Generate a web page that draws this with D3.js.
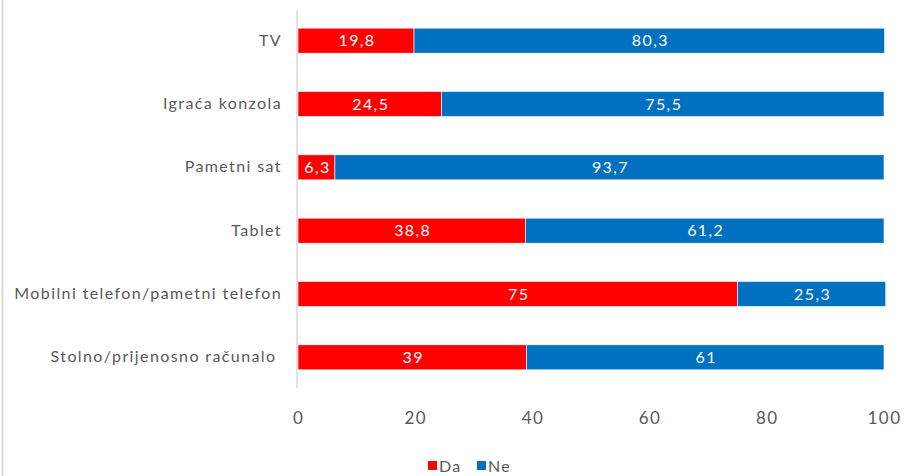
<!DOCTYPE html>
<html>
<head>
    <meta charset="utf-8">
    <title>uredaji</title>
    <script src="https://cdn.jsdelivr.net/npm/d3@7"></script>
    <style>
        body { margin: 0; background: #fff; }
        text { font-family: "Lato", "DejaVu Sans", sans-serif; letter-spacing: 1.4px; white-space: pre; }
    </style>
</head>
<body>
    <script>
        const width = 908;
        const height = 476;

        const categories = ["TV", "Igraća konzola", "Pametni sat", "Tablet",
            "Mobilni telefon/pametni telefon", "Stolno/prijenosno računalo "];
        const da = [19.8, 24.5, 6.3, 38.8, 75, 39];
        const ne = [80.3, 75.5, 93.7, 61.2, 25.3, 61];
        const seriesNames = ["Da", "Ne"];
        const colors = ["#ff0000", "#0070c0"];
        const ticks = [0, 20, 40, 60, 80, 100];

        const rows = categories.map((c, i) => ({ cat: c, da: da[i], ne: ne[i] }));

        const x = d3.scaleLinear().domain([0, 100]).range([298, 884]);
        const y = d3.scaleBand()
            .domain(categories)
            .range([9, 389])
            .paddingInner(0.605)
            .paddingOuter(0.3025);

        const svg = d3.select("body").append("svg")
            .attr("width", width)
            .attr("height", height);

        // frame line on left
        svg.append("line")
            .attr("x1", 2.5).attr("x2", 2.5)
            .attr("y1", 0).attr("y2", height)
            .attr("stroke", "#d9d9d9").attr("stroke-width", 2);

        const stack = d3.stack().keys(["da", "ne"])(rows);

        const g = svg.append("g");
        g.selectAll("g.series")
            .data(stack)
            .enter().append("g")
            .attr("fill", (d, i) => colors[i])
            .selectAll("rect")
            .data(d => d)
            .enter().append("rect")
            .attr("x", d => x(d[0]))
            .attr("y", d => y(d.data.cat))
            .attr("width", d => x(d[1]) - x(d[0]))
            .attr("height", y.bandwidth())
            .attr("stroke", "#fff")
            .attr("stroke-width", 0.6);

        // data labels
        stack.forEach((s, si) => {
            g.selectAll("text.l" + si)
                .data(s)
                .enter().append("text")
                .attr("x", d => (x(d[0]) + x(d[1])) / 2 + 1)
                .attr("y", d => y(d.data.cat) + y.bandwidth() / 2)
                .attr("dy", "0.36em")
                .attr("text-anchor", "middle")
                .attr("fill", "#fff")
                .attr("font-size", 16)
                .text(d => String(d.data[s.key]).replace(".", ","));
        });

        // y axis
        const gy = svg.append("g")
            .attr("transform", "translate(297,0)")
            .call(d3.axisLeft(y).tickSize(0).tickPadding(15));
        gy.select(".domain").attr("stroke", "#d9d9d9").attr("stroke-width", 1.5)
            .attr("d", "M0,10V388");
        gy.selectAll("text")
            .attr("font-size", 16)
            .attr("fill", "#595959")
            .style("font-family", "Lato, 'DejaVu Sans', sans-serif");

        // x axis
        const gx = svg.append("g")
            .attr("transform", "translate(0,408)")
            .call(d3.axisBottom(x).tickValues(ticks).tickSize(0).tickPadding(4));
        gx.select(".domain").remove();
        gx.selectAll("text")
            .attr("font-size", 17)
            .attr("fill", "#595959")
            .style("font-family", "Lato, 'DejaVu Sans', sans-serif");

        // legend
        const leg = svg.append("g").attr("transform", "translate(428,466)");
        const legX = [0, 49];
        seriesNames.forEach((n, i) => {
            leg.append("rect")
                .attr("x", legX[i]).attr("y", -5)
                .attr("width", 9).attr("height", 9)
                .attr("fill", colors[i]);
            leg.append("text")
                .attr("x", legX[i] + 11).attr("y", 0)
                .attr("dy", "0.36em")
                .attr("font-size", 16)
                .attr("fill", "#595959")
                .text(n);
        });
    </script>
</body>
</html>
